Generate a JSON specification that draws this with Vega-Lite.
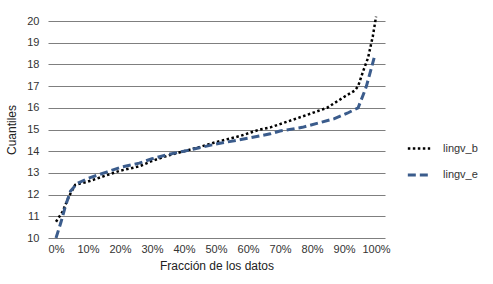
{
  "$schema": "https://vega.github.io/schema/vega-lite/v6.json",
  "width": 337,
  "height": 217,
  "autosize": "none",
  "padding": {"left": 48, "top": 21, "right": 108, "bottom": 46},
  "background": "white",
  "config": {
    "view": {"stroke": null},
    "font": "Liberation Sans",
    "axis": {"labelFont": "Liberation Sans", "titleFont": "Liberation Sans", "labelColor": "#333", "titleColor": "#222", "titleFontWeight": "normal", "labelFontSize": 11, "titleFontSize": 12}
  },
  "data": {"values": [
    {"s": "lingv_b", "x": 0, "y": 10.75},
    {"s": "lingv_b", "x": 2, "y": 11.2},
    {"s": "lingv_b", "x": 4, "y": 11.9},
    {"s": "lingv_b", "x": 6, "y": 12.45},
    {"s": "lingv_b", "x": 10, "y": 12.6},
    {"s": "lingv_b", "x": 15, "y": 12.85},
    {"s": "lingv_b", "x": 20, "y": 13.1},
    {"s": "lingv_b", "x": 26, "y": 13.3},
    {"s": "lingv_b", "x": 30, "y": 13.55},
    {"s": "lingv_b", "x": 35, "y": 13.8},
    {"s": "lingv_b", "x": 40, "y": 14.0},
    {"s": "lingv_b", "x": 45, "y": 14.2},
    {"s": "lingv_b", "x": 50, "y": 14.42},
    {"s": "lingv_b", "x": 57.5, "y": 14.7},
    {"s": "lingv_b", "x": 63.7, "y": 15.0},
    {"s": "lingv_b", "x": 67, "y": 15.1},
    {"s": "lingv_b", "x": 70, "y": 15.25},
    {"s": "lingv_b", "x": 77, "y": 15.6},
    {"s": "lingv_b", "x": 84.7, "y": 16.0},
    {"s": "lingv_b", "x": 90, "y": 16.5},
    {"s": "lingv_b", "x": 93.4, "y": 16.8},
    {"s": "lingv_b", "x": 94.4, "y": 17.0},
    {"s": "lingv_b", "x": 96, "y": 17.7},
    {"s": "lingv_b", "x": 97.5, "y": 18.3},
    {"s": "lingv_b", "x": 99, "y": 19.3},
    {"s": "lingv_b", "x": 100, "y": 20.2},
    {"s": "lingv_e", "x": 0, "y": 10.0},
    {"s": "lingv_e", "x": 1.5, "y": 10.7},
    {"s": "lingv_e", "x": 3, "y": 11.5},
    {"s": "lingv_e", "x": 4.5, "y": 12.15},
    {"s": "lingv_e", "x": 6.5, "y": 12.5},
    {"s": "lingv_e", "x": 10, "y": 12.75},
    {"s": "lingv_e", "x": 16, "y": 13.05},
    {"s": "lingv_e", "x": 20, "y": 13.25},
    {"s": "lingv_e", "x": 26, "y": 13.45},
    {"s": "lingv_e", "x": 30, "y": 13.65},
    {"s": "lingv_e", "x": 35, "y": 13.85},
    {"s": "lingv_e", "x": 40, "y": 14.0},
    {"s": "lingv_e", "x": 50, "y": 14.33},
    {"s": "lingv_e", "x": 60, "y": 14.6},
    {"s": "lingv_e", "x": 67, "y": 14.8},
    {"s": "lingv_e", "x": 70, "y": 14.93},
    {"s": "lingv_e", "x": 77, "y": 15.1},
    {"s": "lingv_e", "x": 82, "y": 15.3},
    {"s": "lingv_e", "x": 87, "y": 15.5},
    {"s": "lingv_e", "x": 91, "y": 15.75},
    {"s": "lingv_e", "x": 94.4, "y": 16.0},
    {"s": "lingv_e", "x": 96, "y": 16.6},
    {"s": "lingv_e", "x": 97, "y": 17.0},
    {"s": "lingv_e", "x": 98.3, "y": 17.7},
    {"s": "lingv_e", "x": 99.4, "y": 18.3}
  ]},
  "mark": {"type": "line", "clip": false, "strokeCap": "butt"},
  "encoding": {
    "x": {"field": "x", "type": "quantitative", "scale": {"domain": [-2.5, 102.8], "nice": false},
      "axis": {"values": [0,10,20,30,40,50,60,70,80,90,100], "labelExpr": "datum.value + '%'", "grid": false, "domain": false, "ticks": false, "labelPadding": 5, "title": "Fracción de los datos", "titlePadding": 6}},
    "y": {"field": "y", "type": "quantitative", "scale": {"domain": [10, 20], "nice": false, "zero": false},
      "axis": {"values": [10,11,12,13,14,15,16,17,18,19,20], "grid": true, "gridColor": "#7f7f7f", "gridWidth": 1.2, "domain": false, "ticks": false, "labelPadding": 9, "title": "Cuantiles", "titlePadding": 8}},
    "color": {"field": "s", "type": "nominal", "scale": {"domain": ["lingv_b", "lingv_e"], "range": ["#000000", "#3b5c8c"]},
      "legend": {"title": null, "orient": "none", "legendX": 358, "legendY": 115, "symbolType": "stroke", "symbolSize": 500, "symbolStrokeWidth": 3, "labelFontSize": 11, "labelColor": "#333", "labelOffset": 11, "rowPadding": 8}},
    "strokeDash": {"field": "s", "type": "nominal", "scale": {"domain": ["lingv_b", "lingv_e"], "range": [[2.5, 2.5], [8, 4]]}, "legend": null},
    "strokeWidth": {"field": "s", "type": "nominal", "scale": {"domain": ["lingv_b", "lingv_e"], "range": [2.5, 3]}, "legend": null}
  }
}
